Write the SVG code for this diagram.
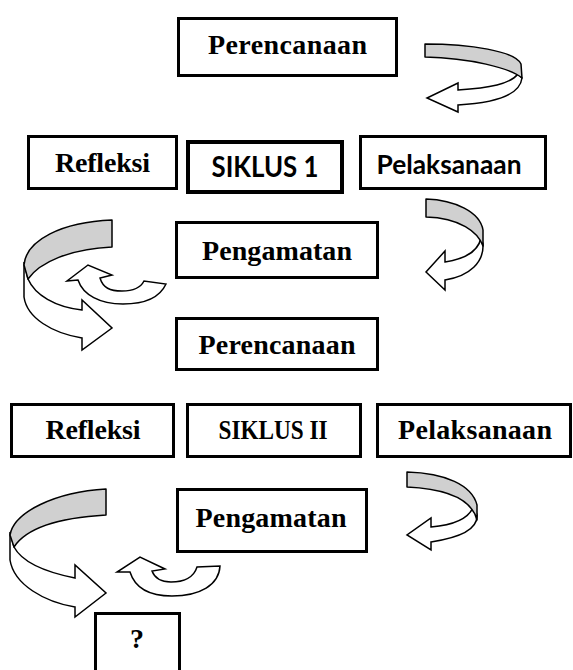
<svg xmlns="http://www.w3.org/2000/svg" width="573" height="670" viewBox="0 0 573 670">
<style>
.box{fill:#fff;stroke:#000;stroke-width:3}
.boxk{fill:#fff;stroke:#000;stroke-width:4}
.serif{font-family:"Liberation Serif","Times New Roman",serif;font-weight:bold;font-size:28px;text-anchor:middle;fill:#000}
.sans{font-family:Lato,"Liberation Sans",sans-serif;font-weight:bold;text-anchor:middle;fill:#000}
.back{fill:#d0d0d0;stroke:#000;stroke-width:1.5;stroke-linejoin:round}
.front{fill:#fff;stroke:#000;stroke-width:1.5;stroke-linejoin:miter}
</style>
<rect width="573" height="670" fill="#fff"/>
<g id="connectors">
  <g id="arrow1">
    <path class="front" d="M518,74 C510,84 490,88 458,90 L458,83 L427,98 L458,112 L458,105 C495,103 520,95 522,78 Z"/>
    <path class="back" d="M425,44 C470,44 515,51 521,64 L522,78 C510,68 470,58 425,57 Z"/>
  </g>
  <g id="arrow2">
    <path class="front" d="M481,238 C478,252 465,259 445,262 L445,251 L426,272 L445,290 L445,280 C470,276 484,262 483,244 Z"/>
    <path class="back" d="M426,199 C455,200 480,212 483,230 L483,246 C478,232 460,218 426,217 Z"/>
  </g>
  <g id="arrow3">
    <path class="front" d="M24,262 L24,297 C27,318 52,333 82,338 L82,350 L112,328 L82,300 L82,310 C55,307 35,295 28,279 Z"/>
    <path class="back" d="M112,220 C62,222 26,240 24,265 L28,279 C40,262 70,249 112,247 Z"/>
  </g>
  <g id="arrow4">
    <path class="front" d="M78,280 L67,281 L88,265 L112,275 L100,278 C103,288 110,291 122,291 C134,291 141,287 144,281 L166,284 C160,297 145,304 123,304 C100,304 83,295 78,280 Z"/>
  </g>
  <g id="arrow5">
    <path class="front" d="M474,505 C470,518 455,525 431,527 L431,518 L407,535 L431,550 L431,542 C458,538 478,530 477,515 Z"/>
    <path class="back" d="M407,472 C445,473 472,485 477,505 L477,520 C472,500 450,489 407,487 Z"/>
  </g>
  <g id="arrow6">
    <path class="front" d="M10,532 L10,560 C14,585 45,602 75,607 L75,617 L106,593 L75,565 L75,578 C45,572 22,562 14,547 Z"/>
    <path class="back" d="M106,489 C55,492 14,512 10,535 L14,547 C25,530 55,518 106,515 Z"/>
  </g>
  <g id="arrow7">
    <path class="front" d="M130,572 L117,572 L140,557 L165,569 L152,571 C155,579 162,582 171,582 C184,582 194,577 197,567 L220,566 C219,585 200,596 172,596 C150,596 135,588 130,572 Z"/>
  </g>
</g>
<g id="perencanaan1">
  <rect class="box" x="178.5" y="18.5" width="218" height="57"/>
  <text class="serif" x="287.5" y="54" textLength="159">Perencanaan</text>
</g>
<g id="refleksi1">
  <rect class="box" x="28.5" y="136.5" width="148" height="52"/>
  <text class="serif" x="102.5" y="172" textLength="95">Refleksi</text>
</g>
<g id="siklus1">
  <rect class="boxk" x="188" y="142" width="154" height="50"/>
  <text class="sans" x="265" y="177" font-size="28" textLength="107" lengthAdjust="spacingAndGlyphs">SIKLUS 1</text>
</g>
<g id="pelaksanaan1">
  <rect class="box" x="360.5" y="136.5" width="185" height="52"/>
  <text class="sans" x="449" y="174" font-size="26" textLength="145" lengthAdjust="spacingAndGlyphs">Pelaksanaan</text>
</g>
<g id="pengamatan1">
  <rect class="box" x="176.5" y="222.5" width="201" height="55"/>
  <text class="serif" x="277" y="259.5" textLength="150">Pengamatan</text>
</g>
<g id="perencanaan2">
  <rect class="box" x="176.5" y="318.5" width="201" height="51"/>
  <text class="serif" x="277" y="354" textLength="157">Perencanaan</text>
</g>
<g id="refleksi2">
  <rect class="box" x="11.5" y="404.5" width="162" height="52"/>
  <text class="serif" x="93" y="439" textLength="95">Refleksi</text>
</g>
<g id="siklus2">
  <rect class="box" x="187.5" y="404.5" width="173" height="52"/>
  <text class="serif" x="273" y="439" textLength="109" lengthAdjust="spacingAndGlyphs">SIKLUS II</text>
</g>
<g id="pelaksanaan2">
  <rect class="box" x="377.5" y="404.5" width="193" height="52"/>
  <text class="serif" x="475" y="439" textLength="154">Pelaksanaan</text>
</g>
<g id="pengamatan2">
  <rect class="box" x="177.5" y="489.5" width="189" height="62"/>
  <text class="serif" x="271" y="527" textLength="151">Pengamatan</text>
</g>
<g id="tanya">
  <rect class="box" x="95.5" y="613.5" width="84" height="70"/>
  <text class="serif" x="137" y="648">?</text>
</g>
</svg>
